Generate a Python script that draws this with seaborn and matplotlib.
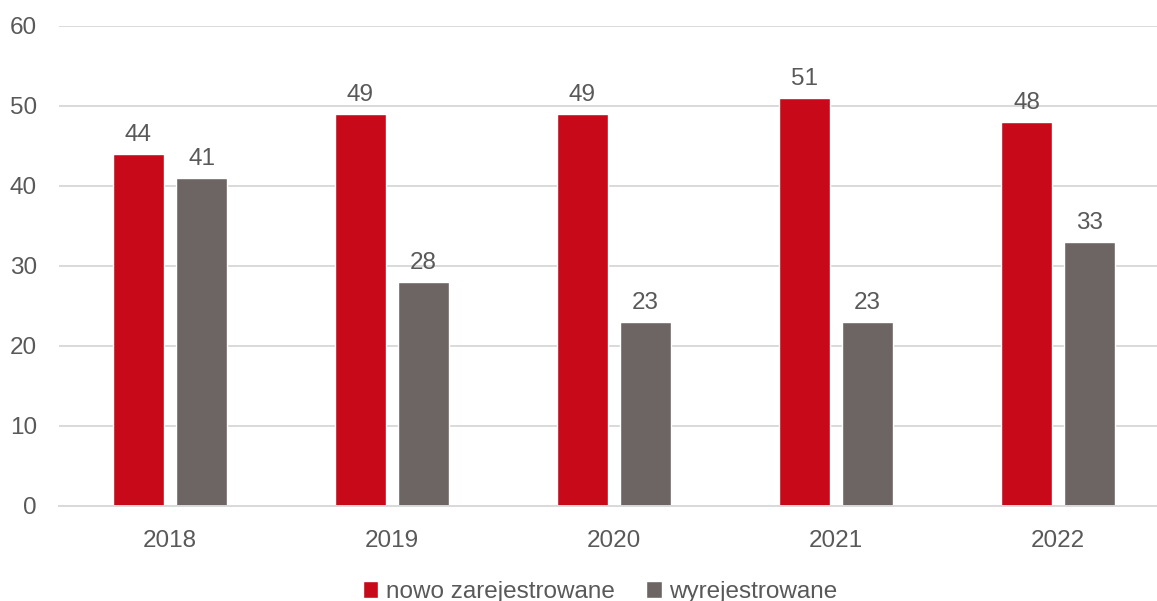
import numpy as np
import pandas as pd
import matplotlib.pyplot as plt
import seaborn as sns

years = ['2018', '2019', '2020', '2021', '2022']
nowo = [44, 49, 49, 51, 48]
wyrej = [41, 28, 23, 23, 33]
series_names = ['nowo zarejestrowane', 'wyrejestrowane']

df = pd.DataFrame({
    'rok': years * 2,
    'liczba': nowo + wyrej,
    'typ': [series_names[0]] * len(years) + [series_names[1]] * len(years),
})

sns.set_theme(style='white')
plt.rcParams['font.family'] = ['Liberation Sans', 'DejaVu Sans']
text_color = '#595959'
fs = 17.5
palette = {series_names[0]: '#C8091A', series_names[1]: '#6D6464'}

fig = plt.figure(figsize=(11.57, 6.01), dpi=100)
ax = fig.add_axes([59 / 1157, (601 - 506) / 601, 1110 / 1157, 480 / 601])

sns.barplot(data=df, x='rok', y='liczba', hue='typ', palette=palette,
            width=0.568, gap=0.2, saturation=1, ax=ax, legend=True)

ax.set_ylim(0, 60)
ax.set_yticks(range(0, 61, 10))
ax.set_xlim(-0.5, 4.5)
ax.yaxis.grid(True, color='#D9D9D9', linewidth=1.4)
ax.set_axisbelow(True)
for s in ['top', 'right', 'left']:
    ax.spines[s].set_visible(False)
ax.spines['bottom'].set_color('#D9D9D9')
ax.spines['bottom'].set_linewidth(1.4)
ax.set_xlabel('')
ax.set_ylabel('')
ax.tick_params(axis='both', length=0, labelsize=fs, labelcolor=text_color)
ax.tick_params(axis='x', pad=17)
ax.tick_params(axis='y', pad=16)

for cont in ax.containers:
    ax.bar_label(cont, fmt='%d', padding=6, fontsize=fs, color=text_color)

handles, labels = ax.get_legend_handles_labels()
ax.legend(handles, labels, loc='center', bbox_to_anchor=(600 / 1157, 9 / 601),
          bbox_transform=fig.transFigure,
          ncol=2, frameon=False, fontsize=fs, labelcolor=text_color,
          handlelength=0.65, handleheight=0.65, handletextpad=0.3, columnspacing=1.3)

fig.savefig('out.png', dpi=100)
